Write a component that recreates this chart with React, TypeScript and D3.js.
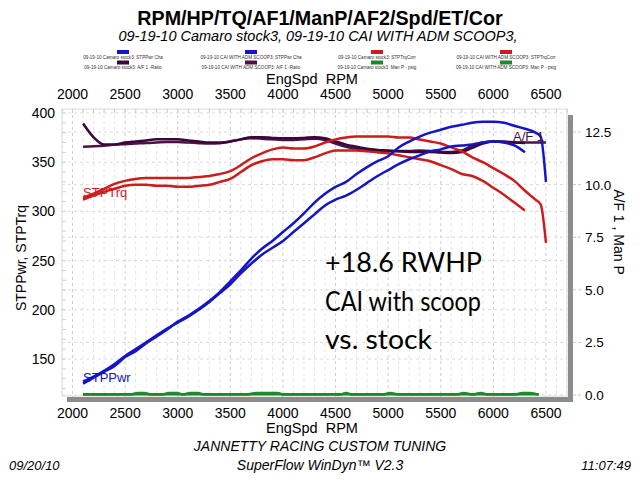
import * as d3 from 'd3';

// engine speed grid used by the power / torque curves
const rpmMain = [2100, 2200, 2300, 2400, 2500, 2600, 2700, 2800, 2900, 3000, 3100, 3200, 3300, 3400, 3500, 3600, 3700, 3800, 3900, 4000, 4100, 4200, 4300, 4400, 4500, 4600, 4700, 4800, 4900, 5000, 5100, 5200, 5300, 5400, 5500, 5600, 5700, 5800, 5900, 6000, 6100, 6200, 6300];
const rpmCaiTail = [6400, 6450, 6500];

const stockPwr = [127, 132, 138, 145, 153, 160, 167, 174, 181, 187, 193, 200, 208, 217, 226, 237, 247, 256, 263, 270, 279, 288, 297, 306, 312, 316, 322, 329, 336, 342, 348, 353, 357, 361, 363, 366, 367, 368, 370, 371, 370, 367, 360];
const caiPwr = [125, 131, 137, 143, 152, 158, 166, 173, 180, 188, 194, 201, 209, 218, 229, 240, 252, 262, 270, 279, 288, 298, 309, 318, 325, 330, 338, 345, 351, 356, 365, 371, 376, 380, 383, 386, 388, 390, 391, 391, 390, 387, 384, 380, 376, 330];

const stockTrq = [312, 316, 320, 323, 326, 327, 327, 326, 326, 325, 325, 326, 327, 330, 333, 340, 347, 351, 353, 353, 352, 352, 355, 359, 362, 362, 362, 361, 360, 359, 357, 355, 353, 351, 347, 343, 338, 336, 331, 324, 317, 309, 301];
const caiTrq = [314, 318, 323, 328, 331, 333, 334, 334, 334, 334, 334, 335, 336, 338, 341, 347, 354, 359, 363, 365, 364, 364, 366, 370, 373, 375, 376, 376, 376, 376, 375, 375, 373, 371, 369, 365, 361, 355, 350, 344, 338, 331, 321, 312, 307, 268];

const stockAf = [12.9, 12.25, 11.9, 11.9, 12.0, 12.05, 12.1, 12.15, 12.15, 12.15, 12.1, 12.05, 12.0, 12.0, 12.05, 12.15, 12.25, 12.25, 12.22, 12.2, 12.2, 12.22, 12.25, 12.2, 12.05, 11.9, 11.8, 11.7, 11.65, 11.62, 11.58, 11.55, 11.55, 11.55, 11.52, 11.5, 11.55, 11.75, 11.95, 12.05, 12.05, 12.0, 11.98];
const caiAf = [11.8, 11.82, 11.85, 11.9, 11.92, 11.95, 11.98, 12.0, 12.02, 12.02, 12.0, 11.97, 11.95, 11.97, 12.05, 12.15, 12.2, 12.18, 12.15, 12.12, 12.12, 12.15, 12.18, 12.12, 11.95, 11.8, 11.7, 11.65, 11.62, 11.6, 11.6, 11.6, 11.62, 11.6, 11.55, 11.55, 11.62, 11.85, 12.0, 12.05, 12.02, 12.0, 12.0, 12.0, 12.0, 12.0];

// manifold pressure, practically zero with small bumps
const manpRpm = [2100, 2550, 2620, 2680, 2750, 2850, 2920, 2990, 3050, 3120, 3190, 3250, 3650, 3750, 3850, 3950, 4000, 4550, 4600, 4650, 4950, 5020, 5100, 5650, 5720, 5800, 5880, 5950, 6200, 6280, 6350, 6430];
const manpStock = [0.02, 0.02, 0.1, 0.1, 0.02, 0.02, 0.1, 0.1, 0.02, 0.1, 0.1, 0.02, 0.02, 0.1, 0.1, 0.1, 0.02, 0.02, 0.1, 0.02, 0.02, 0.1, 0.02, 0.02, 0.1, 0.02, 0.1, 0.02, 0.02, 0.1, 0.1, 0.02];
const manpCai = [0.03, 0.03, 0.03, 0.03, 0.03, 0.03, 0.03, 0.03, 0.03, 0.03, 0.03, 0.03, 0.03, 0.03, 0.03, 0.03, 0.03, 0.03, 0.03, 0.03, 0.03, 0.03, 0.03, 0.03, 0.03, 0.03, 0.03, 0.03, 0.03, 0.03, 0.03, 0.03];

const rpmTicks = [2000, 2500, 3000, 3500, 4000, 4500, 5000, 5500, 6000, 6500];
const leftTicks = [150, 200, 250, 300, 350, 400];
const rightTicks = [0, 2.5, 5, 7.5, 10, 12.5];

const legendCols = [
  { top: 'STPPwr Cha', bottom: 'A/F 1 -Ratio', run: '09-19-10 Camaro stock3', c1: '#1414c8', c2: '#3a0838' },
  { top: 'STPPwr Cha', bottom: 'A/F 1 -Ratio', run: '09-19-10 CAI WITH ADM SCOOP3', c1: '#1414c8', c2: '#4e1048' },
  { top: 'STPTrqCorr', bottom: 'Man P - psig', run: '09-19-10 Camaro stock3', c1: '#cc1c1c', c2: '#1a8a2a' },
  { top: 'STPTrqCorr', bottom: 'Man P - psig', run: '09-19-10 CAI WITH ADM SCOOP3', c1: '#cc1c1c', c2: '#1a8a2a' },
];
const noteLines = ['+18.6 RWHP', 'CAI with scoop', 'vs. stock'];
const noteWidths = [157, 156, 107];

const BLUE = '#1414c8';
const RED = '#cc1c1c';
const font = 'Liberation Sans, Arial, sans-serif';

export default function App() {
  const left = 62, right = 567, top = 109, bottom = 396;
  const x = d3.scaleLinear().domain([1900, 6700]).range([left, right]);
  const yL = d3.scaleLinear().domain([150, 400]).range([359, 113]);
  const yR = d3.scaleLinear().domain([0, 12.5]).range([395, 132]);

  const rpmCai = rpmMain.concat(rpmCaiTail);
  const pts = (rs: number[], vs: number[]) => rs.map((r, i) => [r, vs[i]] as [number, number]);
  const lineL = d3.line<[number, number]>().x(d => x(d[0])).y(d => yL(d[1])).curve(d3.curveMonotoneX);
  const lineR = d3.line<[number, number]>().x(d => x(d[0])).y(d => yR(d[1])).curve(d3.curveMonotoneX);

  const minor = d3.range(1900, 6701, 100);
  const hGrid = leftTicks.map(v => yL(v)).concat(rightTicks.map(v => yR(v)));
  const leftMinor = d3.range(120, 401, 10);

  const colX = [123, 251, 377, 506];
  const axisTitle = 'EngSpd\u00a0\u00a0RPM';

  return (
    <svg width={640} height={480} style={{ position: 'absolute', left: 0, top: 0, background: '#fff' }} fontFamily={font}>
      <rect width={640} height={480} fill="#fff" />
      <text x={320} y={25} textAnchor="middle" fontWeight="bold" fontSize={19.7}>RPM/HP/TQ/AF1/ManP/AF2/Spd/ET/Cor</text>
      <text x={318} y={41} textAnchor="middle" fontStyle="italic" fontSize={14.5}>09-19-10 Camaro stock3, 09-19-10 CAI WITH ADM SCOOP3,</text>

      {legendCols.map((c, i) => (
        <g key={i}>
          <rect x={colX[i] - 6} y={50} width={12} height={4} fill={c.c1} />
          <text x={colX[i]} y={58.5} textAnchor="middle" fontSize={4.6} fill="#333">{`${c.run}: ${c.top}`}</text>
          <rect x={colX[i] - 6} y={60.5} width={12} height={4} fill={c.c2} />
          <text x={colX[i]} y={69} textAnchor="middle" fontSize={4.6} fill="#333">{`${c.run}: ${c.bottom}`}</text>
        </g>
      ))}

      <text x={312} y={84} textAnchor="middle" fontSize={14.5}>{axisTitle}</text>
      {rpmTicks.map(t => (
        <text key={'tt' + t} x={x(t)} y={99} textAnchor="middle" fontSize={14}>{t}</text>
      ))}

      {/* plot frame and grid */}
      <rect x={left} y={top} width={right - left} height={bottom - top} fill="#fff" stroke="#dcdcdc" />
      {minor.map(r => (
        <line key={'v' + r} x1={x(r)} x2={x(r)} y1={top} y2={bottom} stroke={r % 500 === 0 ? '#cfcfcf' : '#e4e4e4'} strokeDasharray="3,3" />
      ))}
      {minor.map(r => (
        <line key={'vt' + r} x1={x(r)} x2={x(r)} y1={top} y2={top + 4} stroke="#cccccc" />
      ))}
      {hGrid.map((yy, i) => (
        <line key={'h' + i} x1={left} x2={right} y1={yy} y2={yy} stroke="#dadada" strokeDasharray="3,3" />
      ))}
      {leftMinor.map(v => (
        <line key={'lm' + v} x1={left} x2={left + 4} y1={yL(v)} y2={yL(v)} stroke="#d0d0d0" />
      ))}
      {rpmTicks.map(t => (
        <line key={'bt' + t} x1={x(t)} x2={x(t)} y1={bottom} y2={bottom + 6} stroke="#c8c8c8" />
      ))}
      {rightTicks.map(t => (
        <line key={'rt' + t} x1={right + 6} x2={right + 14} y1={yR(t)} y2={yR(t)} stroke="#c8c8c8" strokeDasharray="3,2" />
      ))}

      {/* shadow bars */}
      <rect x={67} y={bottom + 1} width={right - 67 + 5} height={5} fill="#8c8c8c" />
      <rect x={right + 1} y={115} width={5} height={bottom - 115 + 6} fill="#8c8c8c" />

      {/* manifold pressure */}
      <path d={lineR(pts(manpRpm, manpCai)) || ''} fill="none" stroke="#1a8a2a" strokeWidth={2.5} />
      <path d={lineR(pts(manpRpm, manpStock)) || ''} fill="none" stroke="#1a8a2a" strokeWidth={2.5} />

      {/* A/F */}
      <path d={lineR(pts(rpmCai, caiAf)) || ''} fill="none" stroke="#4e1048" strokeWidth={2.5} />
      <path d={lineR(pts(rpmMain, stockAf)) || ''} fill="none" stroke="#3a0838" strokeWidth={2.5} />

      {/* torque */}
      <path d={lineL(pts(rpmMain, stockTrq)) || ''} fill="none" stroke={RED} strokeWidth={2.5} />
      <path d={lineL(pts(rpmCai, caiTrq)) || ''} fill="none" stroke={RED} strokeWidth={2.5} />

      {/* power */}
      <path d={lineL(pts(rpmMain, stockPwr)) || ''} fill="none" stroke={BLUE} strokeWidth={2.5} />
      <path d={lineL(pts(rpmCai, caiPwr)) || ''} fill="none" stroke={BLUE} strokeWidth={2.5} />

      <text x={x(2100)} y={197} fontSize={13} fill={RED}>STPTrq</text>
      <text x={x(2100)} y={yL(127)} fontSize={13} fill={BLUE}>STPPwr</text>
      <text x={513} y={141} fontSize={13} fill="#4a1040">A/F 1</text>

      {noteLines.map((s, i) => (
        <text key={s} x={325} y={272 + i * 38.5} fontSize={26} fontFamily="Lato, sans-serif"
          textLength={noteWidths[i]} lengthAdjust="spacingAndGlyphs">{s}</text>
      ))}

      {/* axes labels */}
      {leftTicks.map(t => (
        <text key={'l' + t} x={55} y={yL(t) + 5} textAnchor="end" fontSize={14}>{t}</text>
      ))}
      {rightTicks.map(t => (
        <text key={'r' + t} x={585} y={yR(t) + 5} fontSize={13.5}>{t.toFixed(1)}</text>
      ))}
      <text transform="translate(26,258) rotate(-90)" textAnchor="middle" fontSize={14}>STPPwr, STPTrq</text>
      <text transform="translate(614,232) rotate(90)" textAnchor="middle" fontSize={14}>A/F 1 , Man P</text>

      {rpmTicks.map(t => (
        <text key={'bl' + t} x={x(t)} y={418} textAnchor="middle" fontSize={14}>{t}</text>
      ))}
      <text x={312} y={433} textAnchor="middle" fontSize={14.5}>{axisTitle}</text>
      <text x={320} y={451} textAnchor="middle" fontStyle="italic" fontSize={14}>JANNETTY RACING CUSTOM TUNING</text>
      <text x={320} y={470} textAnchor="middle" fontStyle="italic" fontSize={14}>SuperFlow WinDyn™ V2.3</text>
      <text x={9} y={470} fontStyle="italic" fontSize={13}>09/20/10</text>
      <text x={631} y={470} textAnchor="end" fontStyle="italic" fontSize={13}>11:07:49</text>
    </svg>
  );
}
